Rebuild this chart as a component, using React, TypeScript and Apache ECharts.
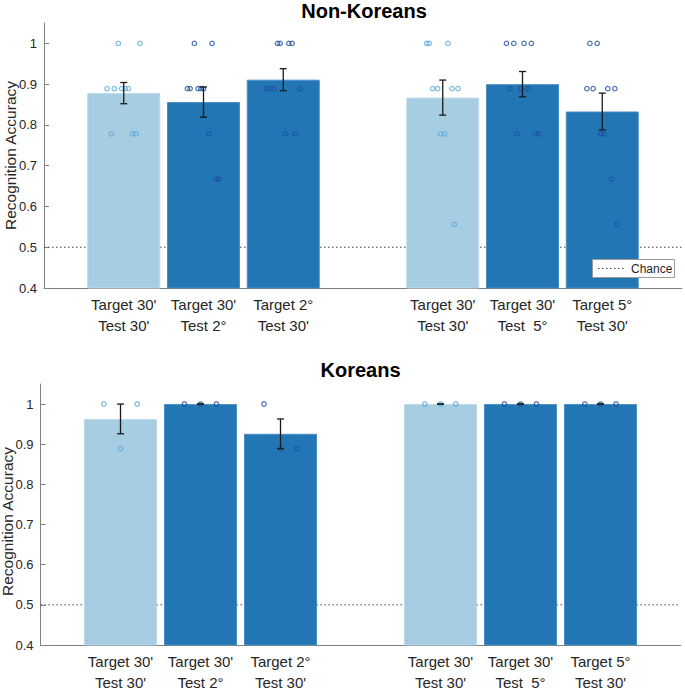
import React, { useEffect, useRef } from "react";
import * as echarts from "echarts";

// ---------- data ----------
const positions = [1, 2, 3, 5, 6, 7];
const targetLabels = ["Target 30'", "Target 30'", "Target 2°", "Target 30'", "Target 30'", "Target 5°"];
const testLabelsTop = ["Test 30'", "Test 2°", "Test 30'", "Test 30'", "Test  5°", "Test 30'"];
const testLabelsBottom = ["Test 30'", "Test 2°", "Test 30'", "Test 30'", "Test  5°", "Test 30'"];
const isLightBar = [true, false, false, true, false, false];
const yTicks = [0.4, 0.5, 0.6, 0.7, 0.8, 0.9, 1];
const chanceLevel = 0.5;
const legendLabel = "Chance";

const nonKoreanMeans = [0.878, 0.856, 0.911, 0.867, 0.9, 0.833];
const nonKoreanSE = [0.026, 0.037, 0.027, 0.043, 0.031, 0.045];
const nonKoreanValues = [
  [1, 1, 0.889, 0.889, 0.889, 0.889, 0.889, 0.778, 0.778, 0.778],
  [1, 1, 0.889, 0.889, 0.889, 0.889, 0.889, 0.778, 0.667, 0.667],
  [1, 1, 1, 1, 0.889, 0.889, 0.889, 0.889, 0.778, 0.778],
  [1, 1, 1, 0.889, 0.889, 0.889, 0.889, 0.778, 0.778, 0.556],
  [1, 1, 1, 1, 0.889, 0.889, 0.889, 0.778, 0.778, 0.778],
  [1, 1, 0.889, 0.889, 0.889, 0.889, 0.778, 0.778, 0.667, 0.556],
];
const nonKoreanJitter = [
  [-0.068, 0.204, -0.209, -0.118, -0.026, 0.016, 0.058, -0.155, 0.111, 0.154],
  [-0.114, 0.108, -0.201, -0.168, -0.068, -0.034, 0.0, 0.07, 0.161, 0.195],
  [-0.071, -0.039, 0.07, 0.111, -0.205, -0.164, -0.121, 0.204, 0.029, 0.154],
  [-0.201, -0.171, 0.066, -0.126, -0.064, 0.116, 0.191, -0.026, 0.024, 0.145],
  [-0.201, -0.109, 0.02, 0.111, -0.159, -0.021, 0.07, -0.071, 0.166, 0.204],
  [-0.155, -0.064, -0.193, -0.114, 0.07, 0.158, -0.021, 0.02, 0.116, 0.183],
];

const koreanMeans = [0.963, 1, 0.926, 1, 1, 1];
const koreanSE = [0.037, 0, 0.037, 0, 0, 0];
const koreanValues = [
  [1, 1, 0.889],
  [1, 1, 1],
  [1, 0.889, 0.889],
  [1, 1, 1],
  [1, 1, 1],
  [1, 1, 1],
];
const koreanJitter = [
  [-0.207, 0.209, 0.0],
  [-0.2, 0.0, 0.2],
  [-0.206, 0.0, 0.206],
  [-0.196, 0.0, 0.19],
  [-0.2, 0.0, 0.2],
  [-0.196, 0.0, 0.195],
];

// ---------- styles ----------
const FONT = "'Liberation Sans', Arial, Helvetica, sans-serif";
const LIGHT_FILL = "#a6cde2";
const LIGHT_EDGE = "#bcd9ea";
const DARK_FILL = "#2176b3";
const DARK_EDGE = "#4a8fc4";
const LIGHT_DOT = "#5aa6da";
const DARK_DOT = "#1f4f9c";
const TEXT = "#262626";
const AXIS = "#808080";
const CHANCE_COLOR = "#404040";
const CHANCE_DASH = [1.5, 2.5];

function buildPanel(idx: number, means: number[], se: number[], values: number[][], jitter: number[][], testLabels: string[]) {
  const xAxis = {
    type: "value",
    gridIndex: idx,
    min: 0,
    max: 8,
    interval: 1,
    axisLine: { show: true, lineStyle: { color: AXIS, width: 1 } },
    axisTick: { show: false },
    splitLine: { show: false },
    axisLabel: {
      color: TEXT,
      fontFamily: FONT,
      fontSize: 15,
      lineHeight: 21,
      margin: 6,
      formatter: (v: number) => {
        const i = positions.indexOf(v);
        return i >= 0 ? `${targetLabels[i]}\n${testLabels[i]}` : "";
      },
    },
  };
  const yAxis = {
    type: "value",
    gridIndex: idx,
    min: 0.4,
    max: 1.05,
    interval: 0.1,
    axisLine: { show: true, lineStyle: { color: AXIS, width: 1 } },
    axisTick: { show: true, inside: true, length: 5, customValues: yTicks, lineStyle: { color: AXIS } },
    splitLine: { show: false },
    axisLabel: {
      color: TEXT,
      fontFamily: FONT,
      fontSize: 13,
      margin: 7,
      customValues: yTicks,
      formatter: (v: number) => (v > 1.001 ? "" : v >= 0.999 ? "1" : v.toFixed(1)),
    },
  };

  const bars = {
    type: "bar",
    name: "bars" + idx,
    xAxisIndex: idx,
    yAxisIndex: idx,
    barWidth: 73,
    z: 2,
    silent: true,
    data: positions.map((p, i) => ({
      value: [p, means[i]],
      itemStyle: {
        color: isLightBar[i] ? LIGHT_FILL : DARK_FILL,
        borderColor: isLightBar[i] ? LIGHT_EDGE : DARK_EDGE,
        borderWidth: 1,
      },
    })),
  };

  const dots: any[] = [];
  values.forEach((vals, i) => {
    vals.forEach((v, j) => {
      dots.push({
        value: [positions[i] + jitter[i][j], v],
        itemStyle: {
          color: "rgba(255,255,255,0)",
          borderColor: isLightBar[i] ? LIGHT_DOT : DARK_DOT,
          borderWidth: 1.2,
        },
      });
    });
  });
  const scatter = {
    type: "scatter",
    name: "points" + idx,
    xAxisIndex: idx,
    yAxisIndex: idx,
    symbol: "circle",
    symbolSize: 4.5,
    z: 3,
    silent: true,
    data: dots,
  };

  const errors = {
    type: "custom",
    name: "err" + idx,
    xAxisIndex: idx,
    yAxisIndex: idx,
    z: 4,
    silent: true,
    encode: { x: 0, y: 1 },
    data: positions.map((p, i) => [p, means[i], se[i]]),
    renderItem: (params: any, api: any) => {
      const x = api.value(0);
      const m = api.value(1);
      const e = api.value(2);
      const top = api.coord([x, m + e]);
      const bot = api.coord([x, m - e]);
      const hw = 3.5;
      const st = { stroke: "#1a1a1a", lineWidth: 1.3 };
      return {
        type: "group",
        children: [
          { type: "line", shape: { x1: top[0], y1: top[1], x2: bot[0], y2: bot[1] }, style: st },
          { type: "line", shape: { x1: top[0] - hw, y1: top[1], x2: top[0] + hw, y2: top[1] }, style: st },
          { type: "line", shape: { x1: bot[0] - hw, y1: bot[1], x2: bot[0] + hw, y2: bot[1] }, style: st },
        ],
      };
    },
  };

  const chance = {
    type: "line",
    name: "chance" + idx,
    xAxisIndex: idx,
    yAxisIndex: idx,
    symbol: "none",
    z: 1,
    silent: true,
    lineStyle: { color: CHANCE_COLOR, width: 1, type: CHANCE_DASH },
    data: [
      [0, chanceLevel],
      [8, chanceLevel],
    ],
  };

  return { xAxis, yAxis, series: [chance, bars, scatter, errors] };
}

const textStyle = (text: string, font: string, fill: string) => ({
  text,
  font,
  fill,
  textAlign: "center",
  textVerticalAlign: "middle",
  align: "center",
  verticalAlign: "middle",
});

export default function App() {
  const ref = useRef<HTMLDivElement>(null);

  useEffect(() => {
    document.body.style.margin = "0";
    if (!ref.current) return;
    const chart = echarts.init(ref.current, undefined, { renderer: "svg" });
    const top = buildPanel(0, nonKoreanMeans, nonKoreanSE, nonKoreanValues, nonKoreanJitter, testLabelsTop);
    const bottom = buildPanel(1, koreanMeans, koreanSE, koreanValues, koreanJitter, testLabelsBottom);

    chart.setOption({
      animation: false,
      backgroundColor: "#ffffff",
      textStyle: { fontFamily: FONT },
      grid: [
        { left: 44, top: 23, width: 640, height: 265 },
        { left: 40.5, top: 384, width: 640, height: 265 },
      ],
      xAxis: [top.xAxis, bottom.xAxis],
      yAxis: [top.yAxis, bottom.yAxis],
      graphic: [
        { type: "text", x: 364, y: 10.5, style: textStyle("Non-Koreans", `bold 20px ${FONT}`, "#000") },
        { type: "text", x: 360.5, y: 370, style: textStyle("Koreans", `bold 20px ${FONT}`, "#000") },
        {
          type: "text",
          x: 10.5,
          y: 155.5,
          rotation: Math.PI / 2,
          style: textStyle("Recognition Accuracy", `15.5px ${FONT}`, TEXT),
        },
        {
          type: "text",
          x: 7.5,
          y: 521.5,
          rotation: Math.PI / 2,
          style: textStyle("Recognition Accuracy", `15.5px ${FONT}`, TEXT),
        },
        // legend box
        {
          type: "rect",
          z: 100,
          shape: { x: 592.5, y: 259.5, width: 82, height: 18 },
          style: { fill: "#ffffff", stroke: "#9a9a9a", lineWidth: 1 },
        },
        {
          type: "line",
          z: 101,
          shape: { x1: 598, y1: 268.5, x2: 626, y2: 268.5 },
          style: { stroke: CHANCE_COLOR, lineWidth: 1, lineDash: CHANCE_DASH },
        },
        {
          type: "text",
          z: 101,
          x: 631,
          y: 268.5,
          style: {
            text: legendLabel,
            font: `12px ${FONT}`,
            fill: TEXT,
            textAlign: "left",
            textVerticalAlign: "middle",
            align: "left",
            verticalAlign: "middle",
          },
        },
      ],
      series: [...top.series, ...bottom.series],
    });

    return () => {
      chart.dispose();
    };
  }, []);

  return <div ref={ref} style={{ width: 685, height: 693 }} />;
}
